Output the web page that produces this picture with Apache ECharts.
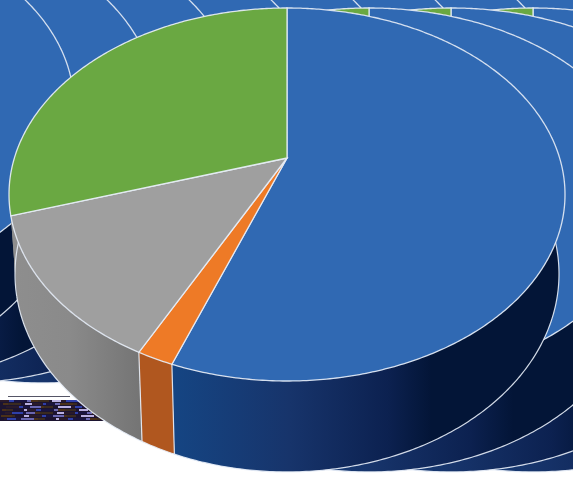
<!DOCTYPE html>
<html>
<head>
<meta charset="utf-8">
<style>
html, body { margin: 0; padding: 0; background: #fff; }
#main { width: 573px; height: 477px; }
</style>
<script src="https://cdn.jsdelivr.net/npm/echarts@6/dist/echarts.min.js"></script>
</head>
<body>
<div id="main"></div>
<script>
// slices, clockwise from 12 o'clock
const sliceNames = ['Blue', 'Orange', 'Gray', 'Green'];
const sliceValues = [55.6, 1.8, 12.7, 29.9];
const topColors = ['#3069b3', '#ee7a26', '#9f9f9f', '#6aa842'];

// styles and layout, kept apart from the values
const wallColors = [
	[[0, '#154583'], [0.3, '#17346b'], [0.55, '#0c2150'], [0.66, '#031537'], [1, '#031537']],
	[[0, '#b0571f'], [1, '#b0571f']],
	[[0, '#8e8e8e'], [0.45, '#8a8a8a'], [1, '#747474']],
	// the green wall only peeks out at the far left, where the picture shows gray
	[[0, '#8e8e8e'], [1, '#8e8e8e']]
];
const centerX = 287;
const topDisc = { top: 8, bottom: 381, vertex: 158, halfWidth: 278 };
const bottomDisc = { top: 76, bottom: 472, vertex: 235.2, halfWidth: 272 };
const tilt = -0.1957;
const edgeColor = 'rgba(232,238,248,0.9)';

// the picture repeats the pie: one row sideways, one row shifted up
const rowStep = 82;
const rowUpper = { dx: -491, dy: -89, count: 13 };
const rowMain = { dx: 0, dy: 0, count: 5 };

function project(disc, angle, off) {
	let X = Math.sin(angle), Y = -Math.cos(angle);
	let w = tilt * Y + 1;
	let p = (disc.bottom * (1 + tilt) - disc.top * (1 - tilt)) / 2;
	let A = disc.halfWidth * Math.sqrt(1 - tilt * tilt);
	return [centerX + off.dx + A * X / w, (p * Y + disc.vertex) / w + off.dy];
}

const total = sliceValues.reduce((a, b) => a + b, 0);
function sliceAngles(i) {
	let before = sliceValues.slice(0, i).reduce((a, b) => a + b, 0);
	return [before / total * Math.PI * 2, (before + sliceValues[i]) / total * Math.PI * 2];
}

function arcPoints(disc, i, off) {
	let [a0, a1] = sliceAngles(i);
	let pts = [];
	let n = Math.ceil((a1 - a0) / 0.01);
	for (let k = 0; k <= n; k++) {
		pts.push(project(disc, a0 + (a1 - a0) * k / n, off));
	}
	return pts;
}

function wallRender(off) {
	return function (params) {
		let i = params.dataIndex;
		let upper = arcPoints(topDisc, i, off);
		let lower = arcPoints(bottomDisc, i, off);
		let outline = lower.slice();
		// divider down the wall, none between gray and green
		if (i > 0 && i < sliceValues.length - 1) {
			outline = [upper[0]].concat(lower);
		}
		return {
			type: 'group',
			children: [{
				type: 'polygon',
				shape: { points: upper.concat(lower.slice().reverse()) },
				style: {
					fill: {
						type: 'linear', x: 0, y: 0, x2: 1, y2: 0,
						colorStops: wallColors[i].map(s => ({ offset: s[0], color: s[1] }))
					}
				}
			}, {
				type: 'polyline',
				shape: { points: outline },
				style: { fill: null, stroke: edgeColor, lineWidth: 1.2 }
			}]
		};
	};
}

function topRender(off) {
	return function (params) {
		let i = params.dataIndex;
		let vertex = [centerX + off.dx, topDisc.vertex + off.dy];
		return {
			type: 'polygon',
			shape: { points: [vertex].concat(arcPoints(topDisc, i, off)) },
			style: { fill: topColors[i], stroke: edgeColor, lineWidth: 1.3 }
		};
	};
}

// left copies sit on top of right ones, upper row goes first
let series = [];
function addRow(row) {
	for (let k = row.count - 1; k >= 0; k--) {
		let off = { dx: row.dx + k * rowStep, dy: row.dy };
		let data = sliceValues.map((v, i) => ({ name: sliceNames[i], value: v }));
		series.push({ type: 'custom', coordinateSystem: 'none', silent: true, animation: false, renderItem: wallRender(off), data: data });
		series.push({ type: 'custom', coordinateSystem: 'none', silent: true, animation: false, renderItem: topRender(off), data: data });
	}
}
addRow(rowUpper);
addRow(rowMain);

// garbled strip below the pile on the left
const stripColors = ['#2a1a2a', '#6a66b0', '#1c1230', '#2f3fa8', '#4a3018', '#b8aee0', '#1a1440', '#3a2a20'];
const stripWidths = [9, 5, 13, 4, 7, 11, 3];
let graphics = [{ type: 'rect', z: 0, shape: { x: 0, y: 400, width: 104, height: 21 }, style: { fill: '#1c1430' } }];
for (let row = 0; row < 7; row++) {
	let x = row * 3 % 7;
	let n = row;
	while (x < 104) {
		let w = stripWidths[n % stripWidths.length];
		graphics.push({
			type: 'rect', z: 0,
			shape: { x: x, y: 400 + row * 3, width: w, height: 2 },
			style: { fill: stripColors[(n * 3 + row) % stripColors.length] }
		});
		x += w;
		n++;
	}
}
graphics.push({ type: 'rect', z: 0, shape: { x: 8, y: 396, width: 62, height: 1 }, style: { fill: '#555566' } });

let myChart = echarts.init(document.getElementById('main'), null, { renderer: 'canvas' });
myChart.setOption({
	backgroundColor: '#fff',
	animation: false,
	graphic: graphics,
	series: series
});
</script>
</body>
</html>
